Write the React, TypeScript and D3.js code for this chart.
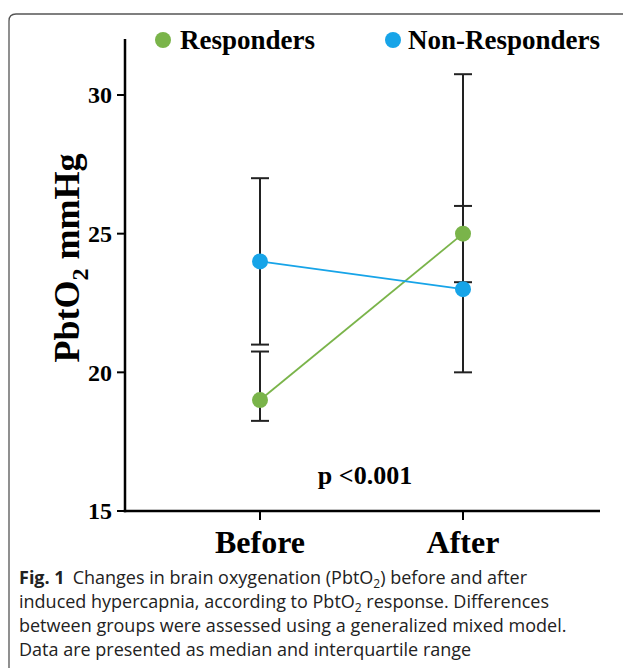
import React from "react";
import * as d3 from "d3";

const categories = ["Before", "After"];
const responderMedian = [19, 25];
const responderQ1 = [18.25, 23.25];
const responderQ3 = [20.75, 26];
const nonResponderMedian = [24, 23];
const nonResponderQ1 = [21, 20];
const nonResponderQ3 = [27, 30.75];
const yTicks = [15, 20, 25, 30];
const seriesNames = ["Responders", "Non-Responders"];
const seriesColors = ["#7AB44A", "#17A4E8"];
const captionLines = [
  "Changes in brain oxygenation (PbtO",
  "induced hypercapnia, according to PbtO",
  "between groups were assessed using a generalized mixed model.",
  "Data are presented as median and interquartile range",
];

export default function App() {
  const W = 623;
  const H = 668;
  const x = d3.scalePoint<string>().domain(categories).range([260, 463]);
  const y = d3.scaleLinear().domain([15, 30]).range([511, 95]);
  const axisX = 125;
  const axisTop = 39;
  const axisRight = 600;
  const serif = "'Liberation Serif', 'Times New Roman', serif";
  const sans = "'Open Sans', 'Noto Sans', sans-serif";

  const series = [
    { med: responderMedian, q1: responderQ1, q3: responderQ3, color: seriesColors[0] },
    { med: nonResponderMedian, q1: nonResponderQ1, q3: nonResponderQ3, color: seriesColors[1] },
  ];
  const line = d3
    .line<number>()
    .x((_, i) => x(categories[i])!)
    .y((d) => y(d));
  const capW = 9;

  return (
    <svg width={W} height={H} style={{ position: "absolute", left: 0, top: 0 }}>
      <rect width={W} height={H} fill="#fff" />
      <path
        d={`M9,${H} L9,21 Q9,14 16,14 L${W + 5},14`}
        fill="none"
        stroke="#555"
        strokeWidth={1.3}
      />
      {/* error bars */}
      {series.map((s, si) =>
        categories.map((c, i) => (
          <g key={`eb${si}${i}`} stroke="#222" strokeWidth={2} fill="none">
            <line x1={x(c)} x2={x(c)} y1={y(s.q1[i])} y2={y(s.q3[i])} />
            <line x1={x(c)! - capW} x2={x(c)! + capW} y1={y(s.q1[i])} y2={y(s.q1[i])} />
            <line x1={x(c)! - capW} x2={x(c)! + capW} y1={y(s.q3[i])} y2={y(s.q3[i])} />
          </g>
        ))
      )}
      {series.map((s, si) => (
        <path key={`l${si}`} d={line(s.med)!} fill="none" stroke={s.color} strokeWidth={1.8} />
      ))}
      {series.map((s, si) =>
        s.med.map((v, i) => (
          <circle key={`p${si}${i}`} cx={x(categories[i])} cy={y(v)} r={8} fill={s.color} />
        ))
      )}
      {/* axes */}
      <g stroke="#000" strokeWidth={2.5}>
        <line x1={axisX} x2={axisX} y1={axisTop} y2={y(15) + 1.25} />
        <line x1={axisX - 1.25} x2={axisRight} y1={y(15)} y2={y(15)} />
      </g>
      {yTicks.map((t) => (
        <g key={t}>
          <line x1={axisX - 8} x2={axisX} y1={y(t)} y2={y(t)} stroke="#000" strokeWidth={2} />
          <text
            x={axisX - 13}
            y={y(t)}
            dy="0.35em"
            textAnchor="end"
            fontFamily={serif}
            fontWeight="bold"
            fontSize={24}
          >
            {t}
          </text>
        </g>
      ))}
      {categories.map((c) => (
        <g key={c}>
          <line x1={x(c)} x2={x(c)} y1={y(15)} y2={y(15) + 9} stroke="#000" strokeWidth={2} />
          <text
            x={x(c)}
            y={553}
            textAnchor="middle"
            fontFamily={serif}
            fontWeight="bold"
            fontSize={32}
          >
            {c}
          </text>
        </g>
      ))}
      <text
        transform={`translate(79,258) rotate(-90)`}
        textAnchor="middle"
        fontFamily={serif}
        fontWeight="bold"
        fontSize={36}
      >
        PbtO<tspan fontSize={24} dy={9}>2</tspan>
        <tspan dy={-9}> mmHg</tspan>
      </text>
      <text x={365} y={484} textAnchor="middle" fontFamily={serif} fontWeight="bold" fontSize={26}>
        p {"<"}0.001
      </text>
      {/* legend */}
      {[
        { cx: 163, tx: 180 },
        { cx: 393, tx: 408 },
      ].map((p, i) => (
        <g key={`lg${i}`}>
          <circle cx={p.cx} cy={40} r={8} fill={seriesColors[i]} />
          <text x={p.tx} y={49} fontFamily={serif} fontWeight="bold" fontSize={27}>
            {seriesNames[i]}
          </text>
        </g>
      ))}
      {/* caption */}
      <g fontFamily={sans} fontSize={18} fill="#222">
        <text x={19} y={584}>
          <tspan fontWeight="bold">Fig. 1</tspan>
          <tspan dx={8}>{captionLines[0]}</tspan>
          <tspan fontSize={12} dy={4}>2</tspan>
          <tspan dy={-4}>) before and after</tspan>
        </text>
        <text x={19} y={608}>
          {captionLines[1]}
          <tspan fontSize={12} dy={4}>2</tspan>
          <tspan dy={-4}> response. Differences</tspan>
        </text>
        <text x={19} y={632}>{captionLines[2]}</text>
        <text x={19} y={656}>{captionLines[3]}</text>
      </g>
    </svg>
  );
}
